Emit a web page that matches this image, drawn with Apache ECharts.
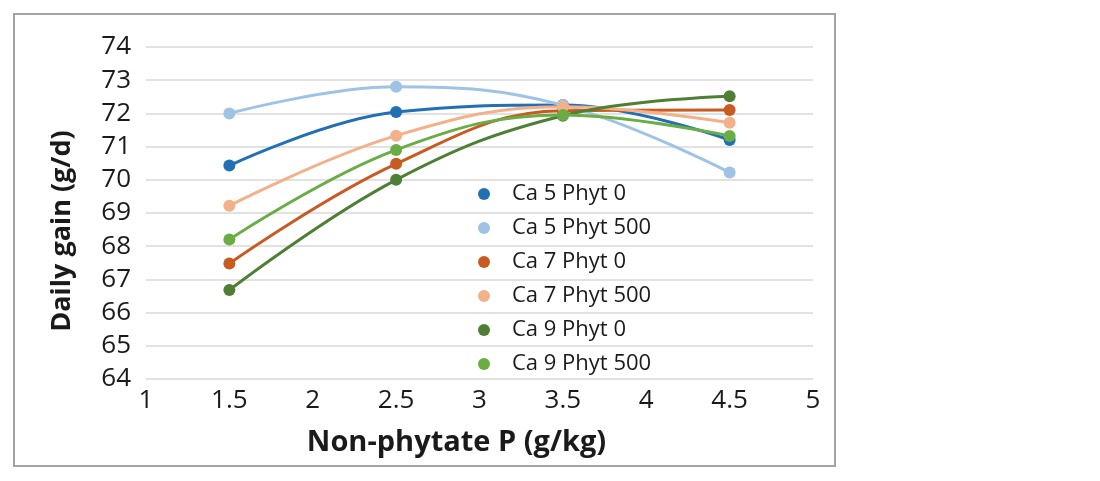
<!DOCTYPE html>
<html>
<head>
<meta charset="utf-8">
<script src="https://cdn.jsdelivr.net/npm/echarts@6/dist/echarts.min.js"></script>
<style>
html,body{margin:0;padding:0;background:#fff;}
#chart{width:1100px;height:481px;}
</style>
</head>
<body>
<div id="chart"></div>
<script>
var xValues = [1.5, 2.5, 3.5, 4.5];
var seriesNames = ['Ca 5 Phyt 0', 'Ca 5 Phyt 500', 'Ca 7 Phyt 0', 'Ca 7 Phyt 500', 'Ca 9 Phyt 0', 'Ca 9 Phyt 500'];
var ca5phyt0 = [70.43, 72.04, 72.25, 71.2];
var ca5phyt500 = [72.0, 72.8, 72.25, 70.22];
var ca7phyt0 = [67.48, 70.48, 72.08, 72.1];
var ca7phyt500 = [69.22, 71.33, 72.2, 71.72];
var ca9phyt0 = [66.68, 70.0, 71.93, 72.52];
var ca9phyt500 = [68.2, 70.9, 71.95, 71.32];
var colors = ['#2170b4', '#9fc3e5', '#c75b22', '#f3b18a', '#4f7f34', '#6aad45'];

var allValues = [ca5phyt0, ca5phyt500, ca7phyt0, ca7phyt500, ca9phyt0, ca9phyt500];

function pairs(vals) {
  return vals.map(function (v, i) { return [xValues[i], v]; });
}

var series = seriesNames.map(function (name, i) {
  return {
    name: name,
    type: 'line',
    data: pairs(allValues[i]),
    smooth: 0.4,
    symbol: 'circle',
    symbolSize: 12,
    z: 2 + i,
    itemStyle: { color: colors[i] },
    lineStyle: { color: colors[i], width: 3 }
  };
});

var chart = echarts.init(document.getElementById('chart'), null, { renderer: 'canvas' });
chart.setOption({
  animation: false,
  backgroundColor: '#ffffff',
  grid: { left: 146, right: 287, top: 47, bottom: 102, containLabel: false },
  graphic: [{
    type: 'rect',
    z: 100,
    shape: { x: 14, y: 14, width: 821, height: 452 },
    style: { fill: 'none', stroke: '#a3a3a3', lineWidth: 2 }
  }],
  legend: {
    orient: 'vertical',
    left: 473,
    top: 178,
    itemWidth: 46,
    itemHeight: 12,
    itemGap: 12,
    icon: 'circle',
    data: seriesNames,
    textStyle: { fontFamily: 'Open Sans', fontSize: 22, color: '#1a1a1a', lineHeight: 22 }
  },
  xAxis: {
    type: 'value',
    min: 1,
    max: 5,
    interval: 0.5,
    name: 'Non-phytate P (g/kg)',
    nameLocation: 'middle',
    nameGap: 49,
    nameTextStyle: { fontFamily: 'Open Sans', fontWeight: 'bold', fontSize: 29, color: '#1a1a1a', padding: [0, 46, 0, 0] },
    axisLine: { show: false },
    axisTick: { show: false },
    splitLine: { show: false },
    axisLabel: { fontFamily: 'Open Sans', fontSize: 26, color: '#1a1a1a', margin: 9 }
  },
  yAxis: {
    type: 'value',
    min: 64,
    max: 74,
    interval: 1,
    name: 'Daily gain (g/d)',
    nameLocation: 'middle',
    nameRotate: 90,
    nameGap: 70,
    nameTextStyle: { fontFamily: 'Open Sans', fontWeight: 'bold', fontSize: 27, color: '#1a1a1a', padding: [0, 36, 0, 0] },
    axisLine: { show: false },
    axisTick: { show: false },
    splitLine: { show: true, lineStyle: { color: '#d9d9d9', width: 1.5 } },
    axisLabel: { fontFamily: 'Open Sans', fontSize: 26, color: '#1a1a1a', margin: 15 }
  },
  series: series
});
</script>
</body>
</html>
